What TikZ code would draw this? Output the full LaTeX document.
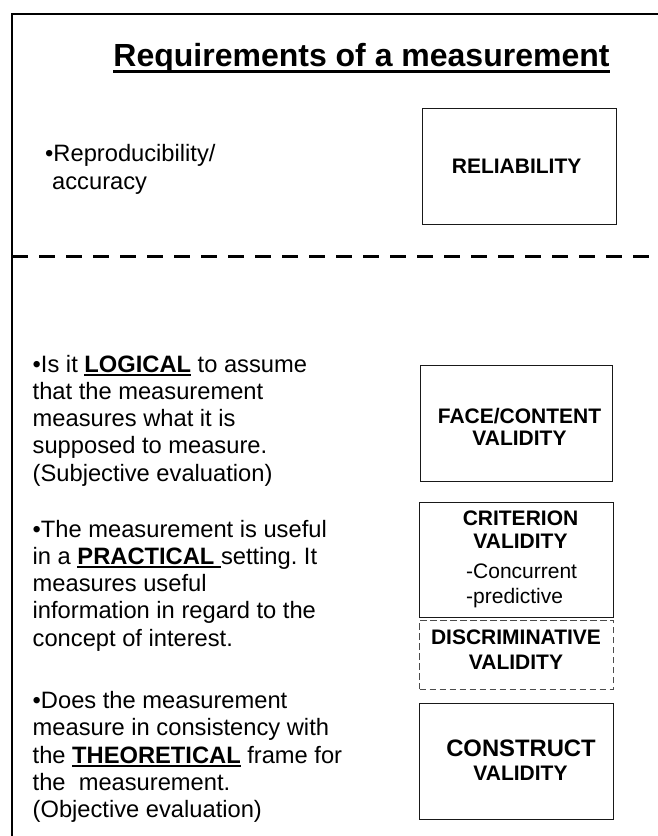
\documentclass[tikz,border=0pt]{standalone}
\usepackage{fontspec}
\setmainfont{Liberation Sans}
\frenchspacing
\newcommand\bodyfont{\fontsize{23.7}{27.3}\selectfont}
\newcommand\boxfont{\fontsize{21}{23}\selectfont\bfseries}
\newcommand\titlefont{\fontsize{32}{38}\selectfont\bfseries}
\newsavebox\ulbox
\newcommand\ulword[1]{\sbox\ulbox{#1}\rlap{\rule[-4pt]{\wd\ulbox}{1.9pt}}\usebox\ulbox}
\newcommand\ultitle[1]{\sbox\ulbox{#1}\rlap{\rule[-6.3pt]{\wd\ulbox}{3pt}}\usebox\ulbox}
\newcommand\llines[1]{\begin{tabular}[t]{@{}l@{}}#1\end{tabular}}
\newcommand\clines[1]{\begin{tabular}[t]{@{}c@{}}#1\end{tabular}}
\begin{document}
\begin{tikzpicture}[x=1pt,y=-1pt,
  body/.style={anchor=base west, inner sep=0pt, font=\bodyfont},
  lab/.style={anchor=base, inner sep=0pt, font=\boxfont},
  sublab/.style={anchor=base west, inner sep=0pt, font=\fontsize{21}{25}\selectfont},
  boxn/.style={draw=black!90, line width=1pt, inner sep=0pt, fill=none},
  dboxn/.style={draw=black!70, line width=1pt, dash pattern=on 6.5pt off 3.5pt, inner sep=0pt}]
\useasboundingbox (0,0) rectangle (658,836);
% frame
\coordinate (fbl) at (12,836);
\coordinate (ftl) at (12,14);
\coordinate (ftr) at (658,14);
\draw[line width=2.6pt] (fbl) -- (ftl) -- (ftr);
% dashed separator
\coordinate (dl) at (12,256.7);
\coordinate (dr) at (658,256.7);
\draw[line width=3pt, dash pattern=on 16pt off 11pt] (dl) -- (dr);
% title
\node[anchor=base, inner sep=0pt, font=\titlefont] (title) at (361.5,66.7) {\ultitle{Requirements of a measurement}};
% left texts
\node[body] (rep) at (45,161.7) {\llines{•Reproducibility/\\\hspace{7pt}accuracy}};
\node[body] (logical) at (32.5,372) {\llines{•Is it \ulword{\textbf{LOGICAL}} to assume\\that the measurement\\measures what it is\\supposed to measure.\\(Subjective evaluation)}};
\node[body] (practical) at (32.5,537) {\llines{•The measurement is useful\\in a \ulword{\textbf{PRACTICAL\ }}setting. It\\measures useful\\information in regard to the\\concept of interest.}};
\node[body] (theoretical) at (32.5,708.5) {\llines{•Does the measurement\\measure in consistency with\\the \ulword{\textbf{THEORETICAL}} frame for\\the~~measurement.\\(Objective evaluation)}};
% boxes
\node[boxn, minimum width=194pt, minimum height=116pt] (rel) at (519,166) {};
\node[boxn, minimum width=192.5pt, minimum height=115.5pt] (face) at (516.25,423.25) {};
\node[boxn, minimum width=193.5pt, minimum height=115pt] (crit) at (516.25,559.5) {};
\node[dboxn, minimum width=194pt, minimum height=69pt] (disc) at (516.5,654.5) {};
\node[boxn, minimum width=193.5pt, minimum height=116pt] (cons) at (516.25,761) {};
% box labels
\node[lab] (relL) at (516.6,173.3) {RELIABILITY};
\node[lab, font=\fontsize{21}{22.4}\selectfont\bfseries] (faceL) at (519.5,423.3) {\clines{FACE/CONTENT\\VALIDITY}};
\node[lab] (critL) at (520.5,525) {\clines{CRITERION\\VALIDITY}};
\node[sublab] (critS1) at (466,578) {-Concurrent};
\node[sublab] (critS2) at (466,603) {-predictive};
\node[lab, font=\fontsize{21}{25.3}\selectfont\bfseries] (discL) at (516,644) {\clines{DISCRIMINATIVE\\VALIDITY}};
\node[lab, font=\fontsize{23.8}{28}\selectfont\bfseries] (consL) at (521,756) {CONSTRUCT};
\node[lab] (consV) at (520.5,780.7) {VALIDITY};
\end{tikzpicture}
\end{document}
